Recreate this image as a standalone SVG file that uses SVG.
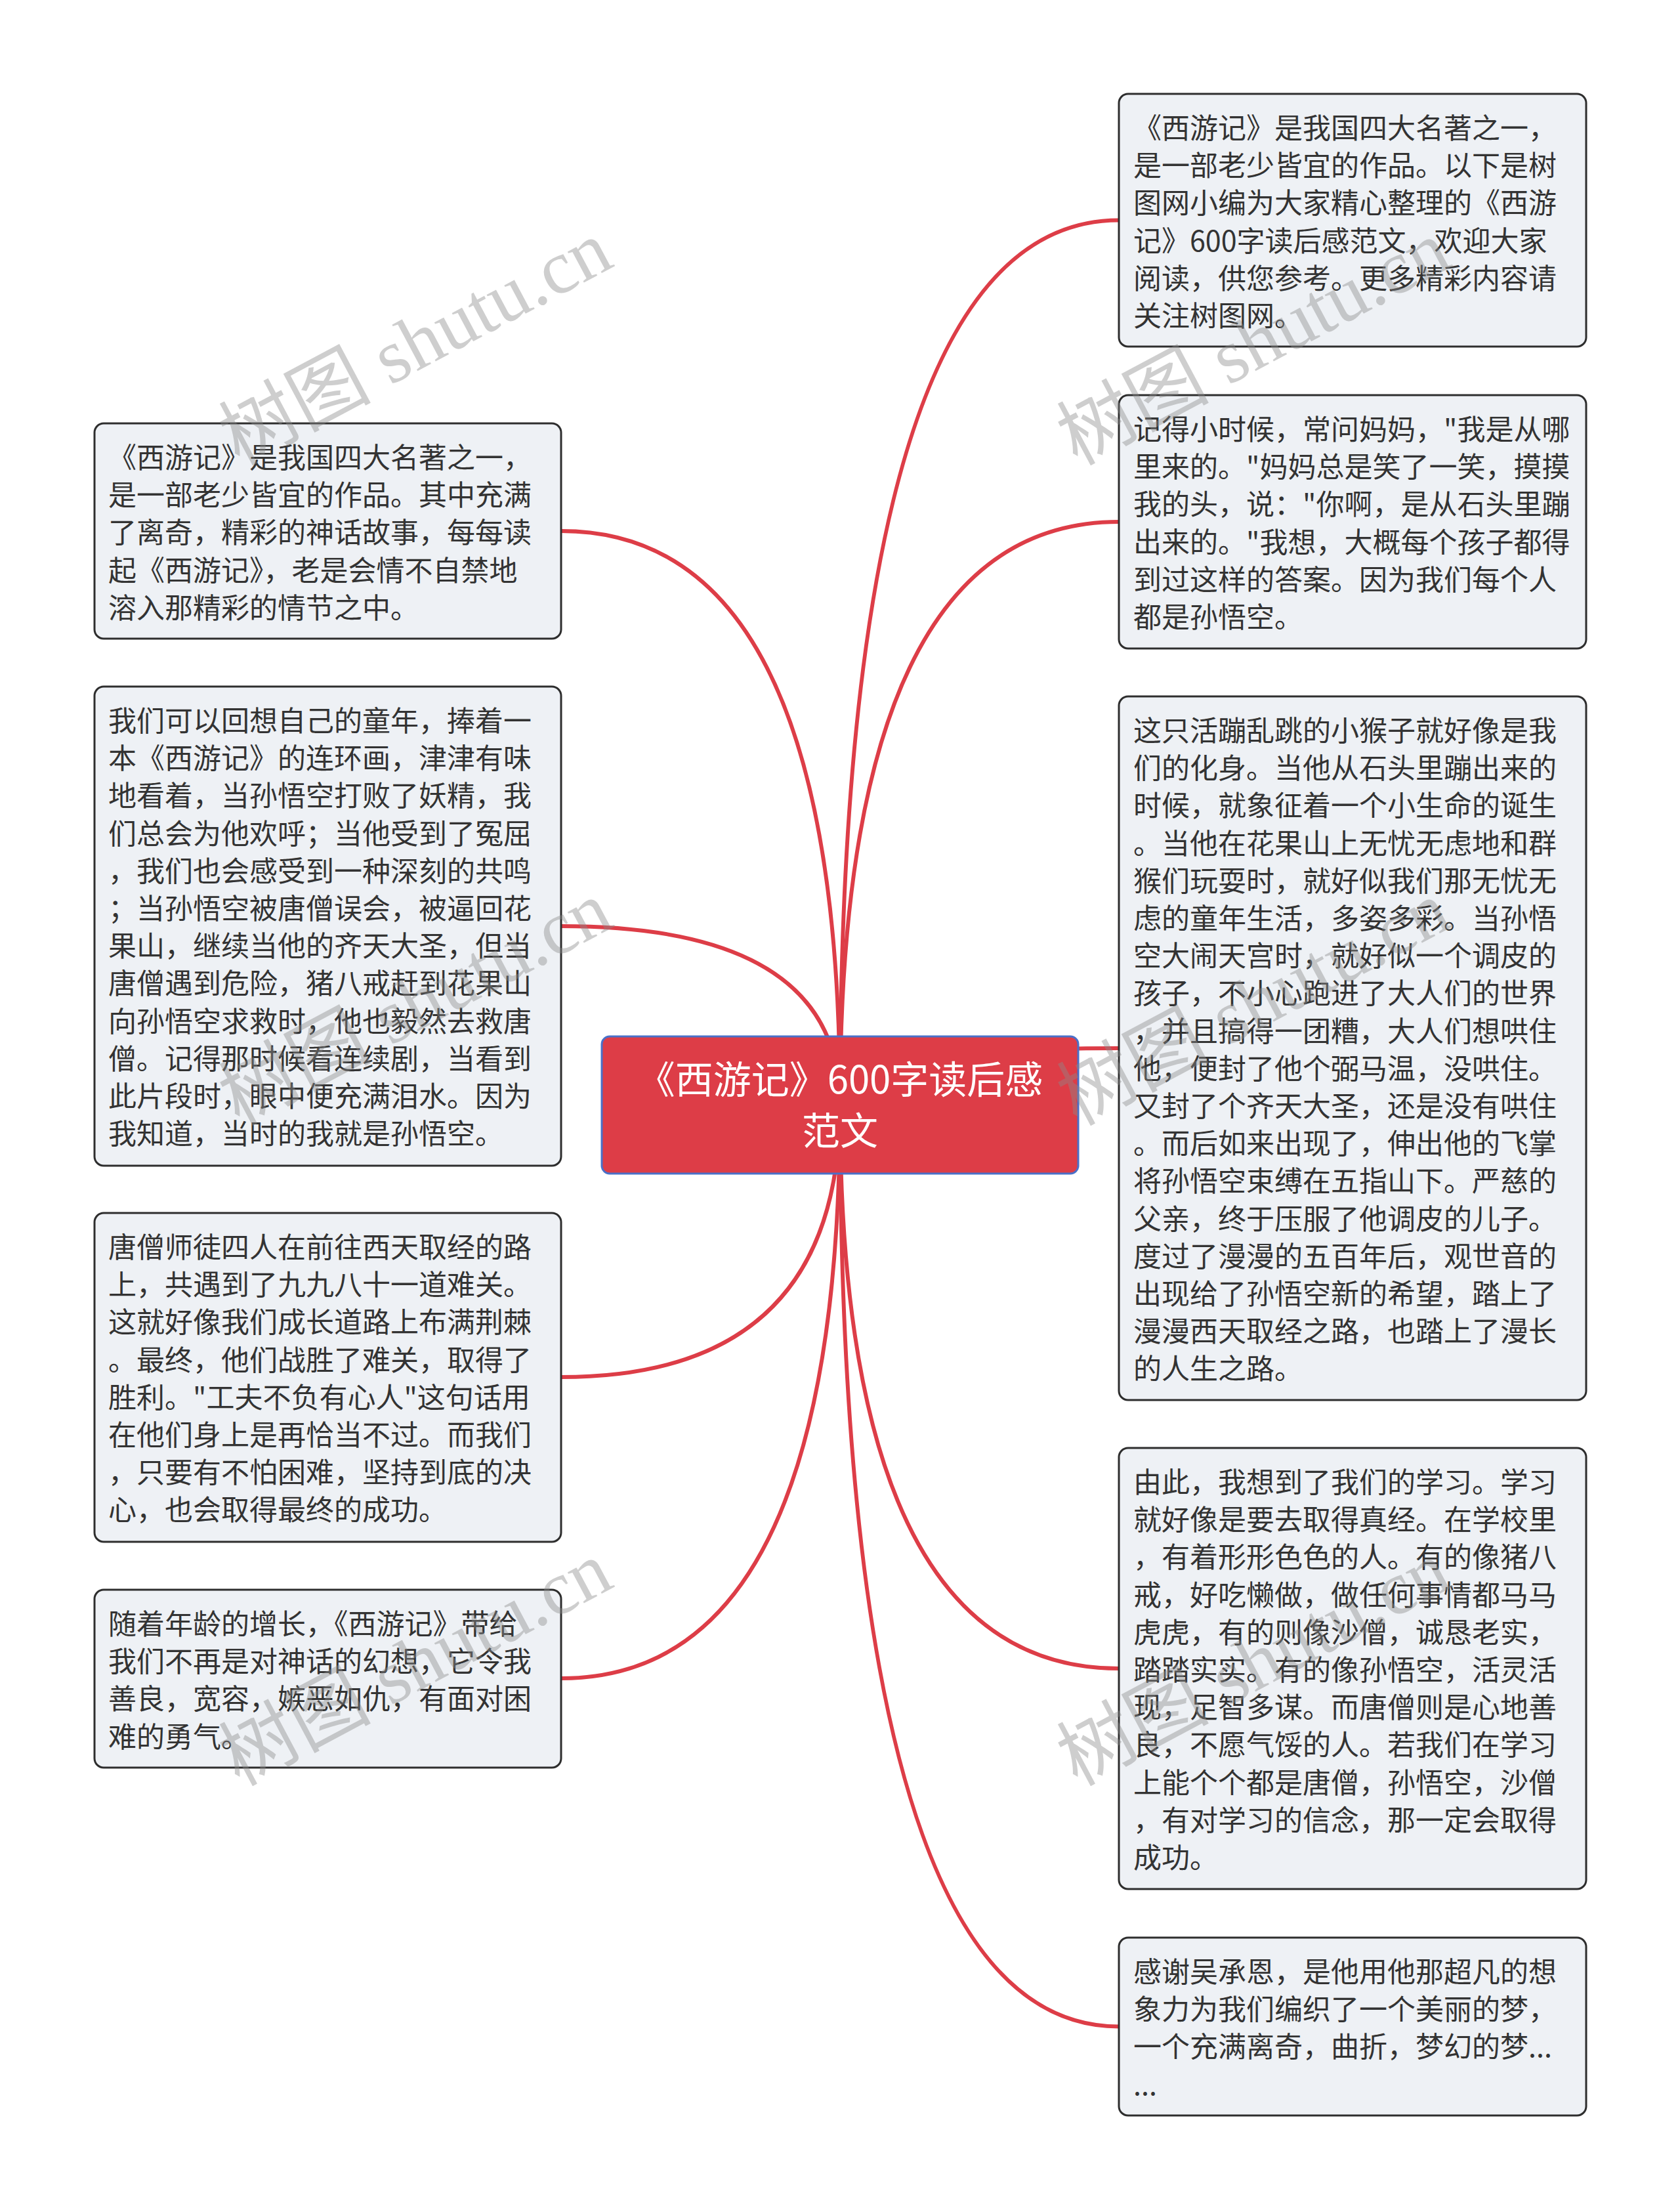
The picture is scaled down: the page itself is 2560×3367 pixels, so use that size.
<svg xmlns="http://www.w3.org/2000/svg" width="2560" height="3367" viewBox="0 0 2560 3367">
<style>
.bg{fill:#ffffff}
.conn{fill:none;stroke:#dd3d47;stroke-width:6;stroke-linecap:round}
.box{fill:#eef1f5;stroke:#2e2e2e;stroke-width:3}
.root{fill:#dd3d47;stroke:#4a70c8;stroke-width:3}
.t{font-family:"Noto Sans CJK SC","Microsoft YaHei",sans-serif;font-size:43px;fill:#333333}
.rt{font-family:"Noto Sans CJK SC","Microsoft YaHei",sans-serif;font-size:58px;fill:#ffffff;text-anchor:middle}
.wm{font-family:"Liberation Serif","Noto Sans CJK SC",serif;font-size:116px;fill:#8a8a8a;fill-opacity:0.42}
</style>
<rect class="bg" x="0" y="0" width="2560" height="3367"/>
<g id="connectors">
<path class="conn" d="M1280 1683 Q1280 335.5 1705 335.5"/>
<path class="conn" d="M1280 1683 Q1280 795 1705 795"/>
<path class="conn" d="M1280 1683 Q1280 1597 1705 1597"/>
<path class="conn" d="M1280 1683 Q1280 2542 1705 2542"/>
<path class="conn" d="M1280 1683 Q1280 3087.5 1705 3087.5"/>
<path class="conn" d="M1280 1683 Q1280 809 855 809"/>
<path class="conn" d="M1280 1683 Q1280 1411 855 1411"/>
<path class="conn" d="M1280 1683 Q1280 2098 855 2098"/>
<path class="conn" d="M1280 1683 Q1280 2557 855 2557"/>
</g>
<g id="root">
<rect class="root" x="917" y="1579" width="726" height="209" rx="12"/>
<text class="rt"><tspan x="1280" y="1666">《西游记》600字读后感</tspan><tspan x="1280" y="1744">范文</tspan></text>
</g>
<g id="r1">
<rect class="box" x="1705" y="143" width="712" height="385" rx="14"/>
<text class="t"><tspan x="1727" y="211">《西游记》是我国四大名著之一，</tspan><tspan x="1727" dy="57.2">是一部老少皆宜的作品。以下是树</tspan><tspan x="1727" dy="57.2">图网小编为大家精心整理的《西游</tspan><tspan x="1727" dy="57.2">记》600字读后感范文，欢迎大家</tspan><tspan x="1727" dy="57.2">阅读，供您参考。更多精彩内容请</tspan><tspan x="1727" dy="57.2">关注树图网。</tspan></text>
</g>
<g id="r2">
<rect class="box" x="1705" y="602" width="712" height="386" rx="14"/>
<text class="t"><tspan x="1727" y="670">记得小时候，常问妈妈，"我是从哪</tspan><tspan x="1727" dy="57.2">里来的。"妈妈总是笑了一笑，摸摸</tspan><tspan x="1727" dy="57.2">我的头，说："你啊，是从石头里蹦</tspan><tspan x="1727" dy="57.2">出来的。"我想，大概每个孩子都得</tspan><tspan x="1727" dy="57.2">到过这样的答案。因为我们每个人</tspan><tspan x="1727" dy="57.2">都是孙悟空。</tspan></text>
</g>
<g id="r3">
<rect class="box" x="1705" y="1061" width="712" height="1072" rx="14"/>
<text class="t"><tspan x="1727" y="1129">这只活蹦乱跳的小猴子就好像是我</tspan><tspan x="1727" dy="57.2">们的化身。当他从石头里蹦出来的</tspan><tspan x="1727" dy="57.2">时候，就象征着一个小生命的诞生</tspan><tspan x="1727" dy="57.2">。当他在花果山上无忧无虑地和群</tspan><tspan x="1727" dy="57.2">猴们玩耍时，就好似我们那无忧无</tspan><tspan x="1727" dy="57.2">虑的童年生活，多姿多彩。当孙悟</tspan><tspan x="1727" dy="57.2">空大闹天宫时，就好似一个调皮的</tspan><tspan x="1727" dy="57.2">孩子，不小心跑进了大人们的世界</tspan><tspan x="1727" dy="57.2">，并且搞得一团糟，大人们想哄住</tspan><tspan x="1727" dy="57.2">他，便封了他个弼马温，没哄住。</tspan><tspan x="1727" dy="57.2">又封了个齐天大圣，还是没有哄住</tspan><tspan x="1727" dy="57.2">。而后如来出现了，伸出他的飞掌</tspan><tspan x="1727" dy="57.2">将孙悟空束缚在五指山下。严慈的</tspan><tspan x="1727" dy="57.2">父亲，终于压服了他调皮的儿子。</tspan><tspan x="1727" dy="57.2">度过了漫漫的五百年后，观世音的</tspan><tspan x="1727" dy="57.2">出现给了孙悟空新的希望，踏上了</tspan><tspan x="1727" dy="57.2">漫漫西天取经之路，也踏上了漫长</tspan><tspan x="1727" dy="57.2">的人生之路。</tspan></text>
</g>
<g id="r4">
<rect class="box" x="1705" y="2206" width="712" height="672" rx="14"/>
<text class="t"><tspan x="1727" y="2274">由此，我想到了我们的学习。学习</tspan><tspan x="1727" dy="57.2">就好像是要去取得真经。在学校里</tspan><tspan x="1727" dy="57.2">，有着形形色色的人。有的像猪八</tspan><tspan x="1727" dy="57.2">戒，好吃懒做，做任何事情都马马</tspan><tspan x="1727" dy="57.2">虎虎，有的则像沙僧，诚恳老实，</tspan><tspan x="1727" dy="57.2">踏踏实实。有的像孙悟空，活灵活</tspan><tspan x="1727" dy="57.2">现，足智多谋。而唐僧则是心地善</tspan><tspan x="1727" dy="57.2">良，不愿气馁的人。若我们在学习</tspan><tspan x="1727" dy="57.2">上能个个都是唐僧，孙悟空，沙僧</tspan><tspan x="1727" dy="57.2">，有对学习的信念，那一定会取得</tspan><tspan x="1727" dy="57.2">成功。</tspan></text>
</g>
<g id="r5">
<rect class="box" x="1705" y="2952" width="712" height="271" rx="14"/>
<text class="t"><tspan x="1727" y="3020">感谢吴承恩，是他用他那超凡的想</tspan><tspan x="1727" dy="57.2">象力为我们编织了一个美丽的梦，</tspan><tspan x="1727" dy="57.2">一个充满离奇，曲折，梦幻的梦...</tspan><tspan x="1727" dy="57.2">...</tspan></text>
</g>
<g id="l1">
<rect class="box" x="144" y="645" width="711" height="328" rx="14"/>
<text class="t"><tspan x="165" y="713">《西游记》是我国四大名著之一，</tspan><tspan x="165" dy="57.2">是一部老少皆宜的作品。其中充满</tspan><tspan x="165" dy="57.2">了离奇，精彩的神话故事，每每读</tspan><tspan x="165" dy="57.2">起《西游记》，老是会情不自禁地</tspan><tspan x="165" dy="57.2">溶入那精彩的情节之中。</tspan></text>
</g>
<g id="l2">
<rect class="box" x="144" y="1046" width="711" height="730" rx="14"/>
<text class="t"><tspan x="165" y="1114">我们可以回想自己的童年，捧着一</tspan><tspan x="165" dy="57.2">本《西游记》的连环画，津津有味</tspan><tspan x="165" dy="57.2">地看着，当孙悟空打败了妖精，我</tspan><tspan x="165" dy="57.2">们总会为他欢呼；当他受到了冤屈</tspan><tspan x="165" dy="57.2">，我们也会感受到一种深刻的共鸣</tspan><tspan x="165" dy="57.2">；当孙悟空被唐僧误会，被逼回花</tspan><tspan x="165" dy="57.2">果山，继续当他的齐天大圣，但当</tspan><tspan x="165" dy="57.2">唐僧遇到危险，猪八戒赶到花果山</tspan><tspan x="165" dy="57.2">向孙悟空求救时，他也毅然去救唐</tspan><tspan x="165" dy="57.2">僧。记得那时候看连续剧，当看到</tspan><tspan x="165" dy="57.2">此片段时，眼中便充满泪水。因为</tspan><tspan x="165" dy="57.2">我知道，当时的我就是孙悟空。</tspan></text>
</g>
<g id="l3">
<rect class="box" x="144" y="1848" width="711" height="501" rx="14"/>
<text class="t"><tspan x="165" y="1916">唐僧师徒四人在前往西天取经的路</tspan><tspan x="165" dy="57.2">上，共遇到了九九八十一道难关。</tspan><tspan x="165" dy="57.2">这就好像我们成长道路上布满荆棘</tspan><tspan x="165" dy="57.2">。最终，他们战胜了难关，取得了</tspan><tspan x="165" dy="57.2">胜利。"工夫不负有心人"这句话用</tspan><tspan x="165" dy="57.2">在他们身上是再恰当不过。而我们</tspan><tspan x="165" dy="57.2">，只要有不怕困难，坚持到底的决</tspan><tspan x="165" dy="57.2">心，也会取得最终的成功。</tspan></text>
</g>
<g id="l4">
<rect class="box" x="144" y="2422" width="711" height="271" rx="14"/>
<text class="t"><tspan x="165" y="2490">随着年龄的增长，《西游记》带给</tspan><tspan x="165" dy="57.2">我们不再是对神话的幻想，它令我</tspan><tspan x="165" dy="57.2">善良，宽容，嫉恶如仇，有面对困</tspan><tspan x="165" dy="57.2">难的勇气。</tspan></text>
</g>
<g id="watermarks">
<text class="wm" transform="translate(364 710) rotate(-28)">树图 shutu.cn</text>
<text class="wm" transform="translate(1641 710) rotate(-28)">树图 shutu.cn</text>
<text class="wm" transform="translate(364 1716) rotate(-28)">树图 shutu.cn</text>
<text class="wm" transform="translate(1641 1716) rotate(-28)">树图 shutu.cn</text>
<text class="wm" transform="translate(364 2722) rotate(-28)">树图 shutu.cn</text>
<text class="wm" transform="translate(1641 2722) rotate(-28)">树图 shutu.cn</text>
</g>
</svg>
